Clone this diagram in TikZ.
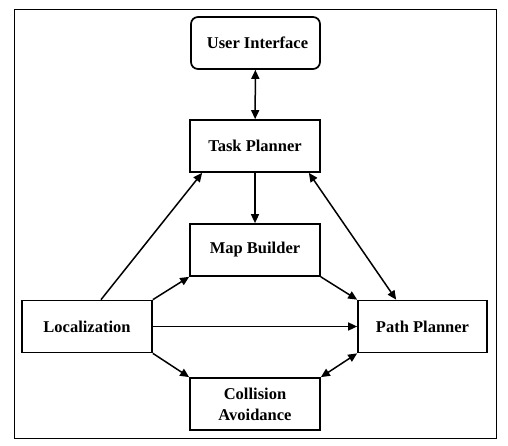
\documentclass[tikz,border=0pt]{standalone}
\usepackage{fontspec}
\setmainfont{Liberation Serif}
\usetikzlibrary{arrows.meta,positioning}

\begin{document}
\begin{tikzpicture}[
  x=1pt, y=-1pt,
  module/.style={draw, line width=1.7pt, minimum width=130pt, minimum height=52pt, align=center, font=\fontsize{16.5}{21}\selectfont\bfseries, inner sep=2pt},
  link/.style={line width=1.5pt, -{Triangle[length=9pt,width=8pt]}},
  twoway/.style={link, {Triangle[length=9pt,width=8pt]}-{Triangle[length=9pt,width=8pt]}}
]
  \useasboundingbox (0,0) rectangle (508,446);
  \draw[line width=0.8pt] (14,9) rectangle (496,438);

  \node[module, rounded corners=7pt, minimum width=129pt] (ui) at (255.5,43) {\hspace{4pt}User Interface};
  \node[module] (tp) at (255,146) {Task Planner};
  \node[module] (mb) at (255,250) {Map Builder};
  \node[module] (loc) at (87,326.5) {Localization};
  \node[module, minimum width=129pt] (pp) at (422.5,326.5) {Path Planner};
  \node[module] (ca) at (255,404) {Collision\\Avoidance};

  \draw[twoway] (ui) -- (tp);
  \draw[link] (tp) -- (mb);
  \draw[link] ([xshift=14pt]loc.north) -- ([xshift=13pt]tp.south west);
  \draw[twoway] ([xshift=-12pt]tp.south east) -- ([xshift=39pt]pp.north west);
  \draw[link] (loc.north east) -- (mb.south west);
  \draw[link] (mb.south east) -- (pp.north west);
  \draw[link] (loc) -- (pp);
  \draw[link] (loc.south east) -- (ca.north west);
  \draw[twoway] (pp.south west) -- (ca.north east);
\end{tikzpicture}
\end{document}
